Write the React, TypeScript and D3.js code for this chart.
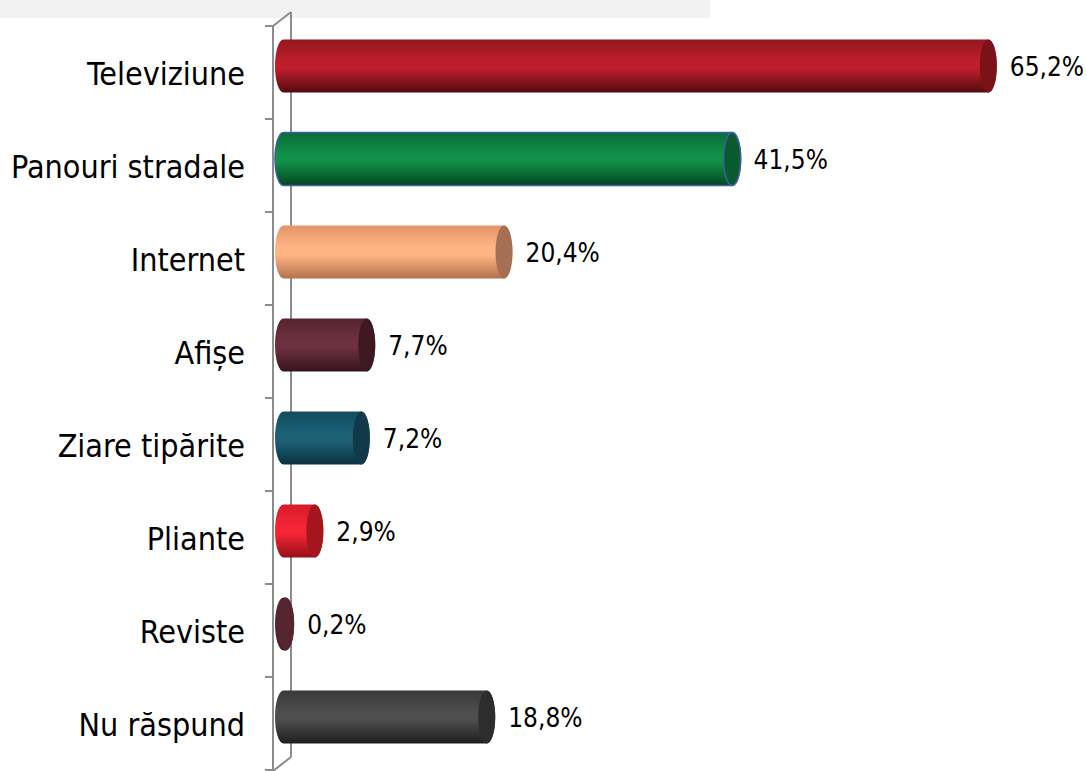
import React from "react";
import * as d3 from "d3";

const categories = [
  "Televiziune",
  "Panouri stradale",
  "Internet",
  "Afișe",
  "Ziare tipărite",
  "Pliante",
  "Reviste",
  "Nu răspund",
];
const values = [65.2, 41.5, 20.4, 7.7, 7.2, 2.9, 0.2, 18.8];

// [top, mid, bottom, cap, stroke]
const palette: string[][] = [
  ["#94161d", "#bf1f2c", "#520a0e", "#7a1218", "none"],
  ["#0b6c37", "#11904a", "#05461f", "#0a5a30", "#3d5fa5"],
  ["#e39469", "#ffb685", "#b3714d", "#a66e53", "none"],
  ["#56232f", "#6d3140", "#36131c", "#3e1922", "none"],
  ["#134c5e", "#1d6177", "#0a323e", "#10394a", "none"],
  ["#d41c27", "#f62636", "#940f17", "#a5151d", "none"],
  ["#5b2633", "#5b2633", "#451c26", "#552530", "none"],
  ["#393939", "#4e4e4e", "#1f1f1f", "#2d2d2d", "none"],
];

const W = 1087;
const H = 771;
const FONT = "'DejaVu Sans Condensed', 'DejaVu Sans', sans-serif";

export default function App() {
  const y = d3.scaleBand<string>().domain(categories).range([26, 770]).padding(0);
  const x = d3.scaleLinear().domain([0, 70]).range([283.5, 283.5 + 70 * 10.81]);
  const barH = 53;
  const rx = 8.5;
  const depthX = 18;
  const depthY = 14;
  const frontX = 273;
  const fmt = (v: number) => d3.format(".1f")(v).replace(".", ",") + "%";
  const ticks = d3.range(categories.length + 1).map((i) => 26 + i * y.step());

  return (
    <svg
      width={W}
      height={H}
      style={{ position: "absolute", left: 0, top: 0, display: "block" }}
    >
      <defs>
        {palette.map((p, i) => (
          <linearGradient key={i} id={`g${i}`} x1="0" y1="0" x2="0" y2="1">
            <stop offset="0" stopColor={p[0]} />
            <stop offset="0.42" stopColor={p[1]} />
            <stop offset="0.55" stopColor={p[1]} />
            <stop offset="1" stopColor={p[2]} />
          </linearGradient>
        ))}
      </defs>
      <rect x={0} y={0} width={710} height={18} fill="#f2f2f2" />

      {/* 3D wall axis */}
      <g stroke="#8c8c8c" strokeWidth={2} fill="none">
        <line x1={frontX} y1={26} x2={frontX} y2={771} />
        <line x1={frontX + depthX} y1={26 - depthY} x2={frontX + depthX} y2={771 - depthY} />
        <line x1={frontX} y1={26} x2={frontX + depthX} y2={26 - depthY} />
        <line x1={frontX} y1={771} x2={frontX + depthX} y2={771 - depthY} />
        {ticks.map((t, i) => (
          <line key={i} x1={frontX - 8} y1={t} x2={frontX} y2={t} />
        ))}
      </g>

      {categories.map((c, i) => {
        const cy = (y(c) as number) + y.bandwidth() / 2;
        const by = cy - 6.5;
        const top = by - barH / 2;
        const bot = by + barH / 2;
        const x0 = x(0);
        const x1 = x(values[i]);
        const p = palette[i];
        const ry = barH / 2;
        const body = `M${x0},${top} L${x1},${top} A${rx},${ry} 0 0 1 ${x1},${bot} L${x0},${bot} A${rx},${ry} 0 0 1 ${x0},${top} Z`;
        const sw = p[4] === "none" ? 0 : 1.5;
        return (
          <g key={c}>
            <path d={body} fill={`url(#g${i})`} stroke={p[4]} strokeWidth={sw} />
            <ellipse cx={x1} cy={by} rx={rx} ry={ry} fill={p[3]} stroke={p[4]} strokeWidth={sw} />
            <text
              x={245}
              y={cy + 12.5}
              textAnchor="end"
              fontFamily={FONT}
              fontSize={32}
              fill="#000"
            >
              {c}
            </text>
            <text
              x={x1 + rx + 13}
              y={by + 9.5}
              fontFamily={FONT}
              fontSize={26}
              fill="#000"
            >
              {fmt(values[i])}
            </text>
          </g>
        );
      })}
    </svg>
  );
}
